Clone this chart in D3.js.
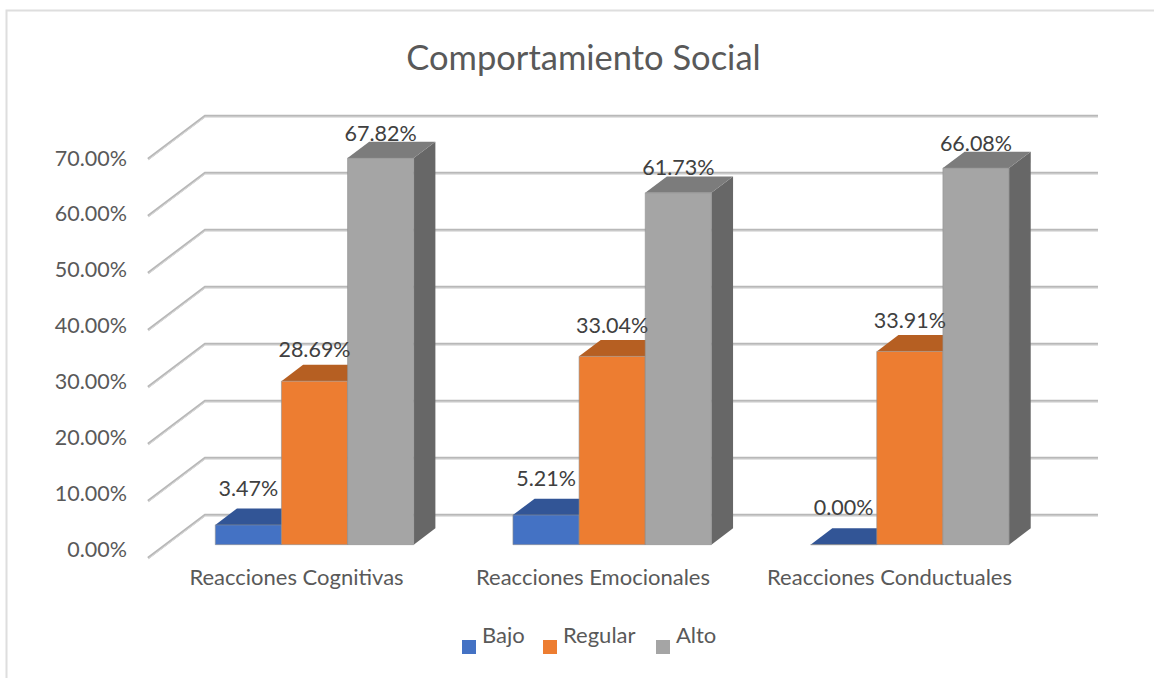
<!DOCTYPE html>
<html>
<head>
<meta charset="utf-8">
<script src="https://cdn.jsdelivr.net/npm/d3@7"></script>
<style>
html, body { margin: 0; padding: 0; background: #fff; }
svg { display: block; }
text { font-family: Lato, sans-serif; }
</style>
</head>
<body>
<svg></svg>
<script>
const categories = ["Reacciones Cognitivas", "Reacciones Emocionales", "Reacciones Conductuales"];
const seriesNames = ["Bajo", "Regular", "Alto"];
const bajo = [3.47, 5.21, 0.0];
const regular = [28.69, 33.04, 33.91];
const alto = [67.82, 61.73, 66.08];
const yTicks = [0, 10, 20, 30, 40, 50, 60, 70];

const size = { w: 1154, h: 678 };
const svg = d3.select("svg").attr("width", size.w).attr("height", size.h);

const colors = {
	Bajo: { front: "#4472c4", top: "#325596", side: "#2b4a82" },
	Regular: { front: "#ed7d31", top: "#b65f22", side: "#a0521c" },
	Alto: { front: "#a5a5a5", top: "#7c7c7c", side: "#676767" },
};

// frame
svg.append("path")
	.attr("d", "M6.5,678V10.5H1154")
	.attr("fill", "none")
	.attr("stroke", "#dedede")
	.attr("stroke-width", 2);

svg.append("text")
	.attr("x", 583.5)
	.attr("y", 70)
	.attr("text-anchor", "middle")
	.attr("font-size", 34.5)
	.attr("fill", "#595959")
	.text("Comportamiento Social");

// floor plane scales, depth moves points back and up
const x = d3.scaleBand().domain(categories).range([148, 1041]);
const y = d3.scaleLinear().domain([0, 70]).range([558, 159]);
const depthX = d3.scaleLinear().domain([0, 1]).range([0, 57]);
const depthY = d3.scaleLinear().domain([0, 1]).range([0, -43]);
const tickY = d3.scaleLinear().domain([0, 70]).range([549, 158]);
const xLabel = d3.scalePoint().domain(categories).range([296.5, 889.5]);

const barWidth = x.bandwidth() / 4.5;
const inner = d3.scaleBand().domain(seriesNames).range([-1.5 * barWidth, 1.5 * barWidth]);
const depthNear = 0.31;
const depthFar = 0.69;

function pt(px, value, depth) {
	return [px + depthX(depth), y(value) + depthY(depth)];
}

// walls
const gridG = svg.append("g").classed("grid", true);
yTicks.forEach(function (t) {
	const points = [pt(x.range()[0], t, 0), pt(x.range()[0], t, 1), pt(x.range()[1], t, 1)];
	const line = d3.line()(points);
	gridG.append("path").attr("d", line).attr("fill", "none").attr("stroke", "#b8b8b8").attr("stroke-width", 2.6);
	gridG.append("path").attr("d", line).attr("fill", "none").attr("stroke", "#dadada").attr("stroke-width", 1).attr("transform", "translate(0,1)");
});

// bars, flattened to one row per bar
const bars = [];
categories.forEach(function (c, i) {
	[bajo, regular, alto].forEach(function (vals, s) {
		bars.push({ category: c, series: seriesNames[s], value: vals[i] });
	});
});

const barG = svg.selectAll("g.bar").data(bars).enter().append("g").classed("bar", true);

function left(d) {
	return x(d.category) + x.bandwidth() / 2 + inner(d.series);
}

barG.append("path")
	.attr("d", function (d) {
		const l = left(d), r = l + barWidth;
		return d3.line()([pt(r, 0, depthNear), pt(r, 0, depthFar), pt(r, d.value, depthFar), pt(r, d.value, depthNear)]) + "Z";
	})
	.attr("fill", function (d) { return colors[d.series].side; });

barG.append("path")
	.attr("d", function (d) {
		const l = left(d), r = l + barWidth;
		return d3.line()([pt(l, d.value, depthNear), pt(l, d.value, depthFar), pt(r, d.value, depthFar), pt(r, d.value, depthNear)]) + "Z";
	})
	.attr("fill", function (d) { return colors[d.series].top; });

barG.append("path")
	.attr("d", function (d) {
		const l = left(d), r = l + barWidth;
		return d3.line()([pt(l, 0, depthNear), pt(l, d.value, depthNear), pt(r, d.value, depthNear), pt(r, 0, depthNear)]) + "Z";
	})
	.attr("fill", function (d) { return colors[d.series].front; })
	.attr("stroke", "#8f8f8f")
	.attr("stroke-opacity", 0.6)
	.attr("stroke-width", 1);

// labels sit higher above short bars than tall ones
svg.selectAll("text.value").data(bars).enter().append("text")
	.classed("value", true)
	.attr("x", function (d) { return pt(left(d) + barWidth / 2, 0, depthNear)[0]; })
	.attr("y", function (d) { return pt(0, d.value, depthNear)[1] - (30 - 0.19 * d.value); })
	.attr("text-anchor", "middle")
	.attr("font-size", 21.5)
	.attr("fill", "#404040")
	.text(function (d) { return d.value.toFixed(2) + "%"; });

svg.selectAll("text.ytick").data(yTicks).enter().append("text")
	.classed("ytick", true)
	.attr("x", 127)
	.attr("y", function (d) { return tickY(d); })
	.attr("dy", "0.35em")
	.attr("text-anchor", "end")
	.attr("font-size", 21.5)
	.attr("fill", "#595959")
	.text(function (d) { return d.toFixed(2) + "%"; });

svg.selectAll("text.xtick").data(categories).enter().append("text")
	.classed("xtick", true)
	.attr("x", function (d) { return xLabel(d); })
	.attr("y", 585)
	.attr("text-anchor", "middle")
	.attr("font-size", 22)
	.attr("fill", "#595959")
	.text(function (d) { return d; });

// legend
const legendX = d3.scaleOrdinal().domain(seriesNames).range([462, 543, 656]);
const legend = svg.selectAll("g.legend").data(seriesNames).enter().append("g").classed("legend", true)
	.attr("transform", function (d) { return "translate(" + legendX(d) + ",640)"; });
legend.append("rect").attr("width", 14).attr("height", 14).attr("fill", function (d) { return colors[d].front; });
legend.append("text").attr("x", 20).attr("y", 3).attr("font-size", 22).attr("fill", "#595959").text(function (d) { return d; });
</script>
</body>
</html>
